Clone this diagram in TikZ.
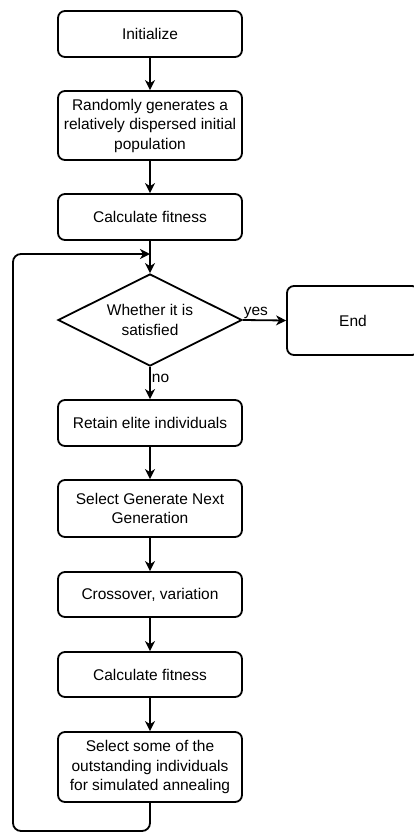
\documentclass[tikz,border=0pt]{standalone}
\usepackage{fontspec}
\setmainfont{Liberation Sans}
\usetikzlibrary{arrows.meta,shapes.geometric}
\begin{document}
\begin{tikzpicture}[x=1pt,y=-1pt,
  box/.style={draw,line width=1.8pt,rounded corners=7pt,minimum width=184pt,align=center,font=\fontsize{15.5}{19.5}\selectfont,inner sep=0pt},
  dia/.style={draw,line width=1.8pt,diamond,aspect=2,minimum width=184pt,minimum height=92pt,inner sep=0pt,align=center,font=\fontsize{15.5}{19.5}\selectfont},
  arr/.style={line width=1.8pt,-{Stealth[length=10pt,width=10pt,inset=3pt]}},
  lbl/.style={font=\fontsize{15.5}{17}\selectfont,inner sep=1pt}]
\useasboundingbox (0,0) rectangle (414,833);
\node[box,minimum height=46pt] (init) at (150,34) {Initialize};
\node[box,minimum height=69pt] (rand) at (150,125.5) {Randomly generates a\\relatively dispersed initial\\population};
\node[box,minimum height=46pt] (fit1) at (150,217) {Calculate fitness};
\node[dia] (sat) at (150,320) {Whether it is\\satisfied};
\node[box,minimum height=69pt,minimum width=132pt] (end) at (353,320.5) {End};
\node[box,minimum height=46pt] (elite) at (150,423) {Retain elite individuals};
\node[box,minimum height=57pt] (sel) at (150,508.5) {Select Generate Next\\Generation};
\node[box,minimum height=45pt] (cross) at (150,594.5) {Crossover, variation};
\node[box,minimum height=45pt] (fit2) at (150,674.5) {Calculate fitness};
\node[box,minimum height=70pt] (sa) at (150,767) {Select some of the\\outstanding individuals\\for simulated annealing};
\draw[arr] (init) -- (rand);
\draw[arr] (rand) -- (fit1);
\draw[arr] (fit1) -- (sat);
\draw[arr] (sat.east) -- node[lbl,above,pos=0.3] {yes} (end.west);
\draw[arr] (sat.south) -- node[lbl,right,pos=0.35] {no} (elite.north);
\draw[arr] (elite) -- (sel);
\draw[arr] (sel) -- (cross);
\draw[arr] (cross) -- (fit2);
\draw[arr] (fit2) -- (sa);
\coordinate (loopin) at (150,254);
\draw[arr,rounded corners=8pt] (sa.south) -- (150,831) -- (13,831) -- (13,254) -- (loopin);
\end{tikzpicture}
\end{document}
